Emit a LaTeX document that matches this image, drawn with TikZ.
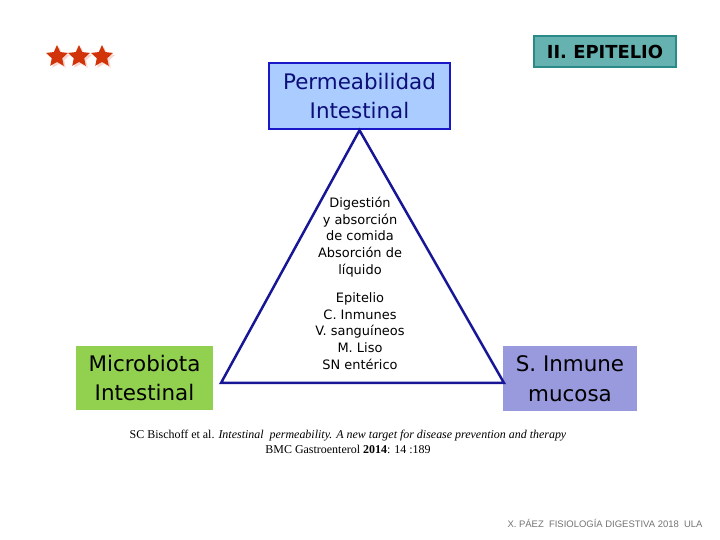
\documentclass[tikz,border=0pt]{standalone}
\usepackage{fontspec}
\setmainfont{DejaVu Sans}
\newfontfamily\citefont{Liberation Serif}
\newfontfamily\footfont{Liberation Sans}
\usepackage{tikz}
\usetikzlibrary{positioning,shapes.geometric}

\definecolor{permfill}{RGB}{170,204,255}
\definecolor{permline}{RGB}{24,24,200}
\definecolor{epifill}{RGB}{102,178,176}
\definecolor{epiline}{RGB}{42,138,136}
\definecolor{microfill}{RGB}{146,208,80}
\definecolor{inmfill}{RGB}{153,153,221}
\definecolor{triline}{RGB}{22,22,150}
\definecolor{starred}{RGB}{208,52,8}

\begin{document}
\begin{tikzpicture}[x=1bp,y=1bp, every node/.style={align=center, inner sep=0pt},
  topic/.style={minimum width=#1, font=\fontsize{21.5}{30}\selectfont},
  starglyph/.style={star, star points=5, star point ratio=2.1, minimum size=23bp, fill=starred},
  starshadow/.style={starglyph, fill=starred!20}]
\useasboundingbox (0,0) rectangle (720,540);

% stars
\foreach \sx in {57,79,102} {
  \node[starshadow] (sh\sx) at (\sx+2,481.5) {};
  \node[starglyph] (st\sx) at (\sx,483.5) {};
}

% boxes
\node[topic=181bp, minimum height=66bp, fill=permfill, draw=permline, line width=2.5pt,
  text=permline!60!black] (perm) at (359.5,444) {Permeabilidad\\Intestinal};
\node[minimum width=142bp, minimum height=31bp, fill=epifill, draw=epiline, line width=2pt,
  font=\bfseries\fontsize{18}{20}\selectfont] (epi) at (605,488.5) {II. EPITELIO};
\node[topic=137bp, minimum height=64bp, fill=microfill] (micro) at (144.5,162) {Microbiota\\Intestinal};
\node[topic=134bp, minimum height=65bp, fill=inmfill] (inm) at (570,161.5) {S. Inmune\\mucosa};

% triangle
\coordinate (apex) at (perm.south);
\coordinate (bl) at (221,157);
\coordinate (br) at (504,157);
\draw[triline, line width=2.5pt, line join=miter] (apex) -- (bl) -- (br) -- cycle;

% inside the triangle
\node[font=\fontsize{13}{16.7}\selectfont] (funcs) at (360,303) {Digestión\\y absorción\\de comida\\Absorción de\\líquido};
\node[font=\fontsize{13}{16.7}\selectfont] (parts) at (360,209) {Epitelio\\C. Inmunes\\V. sanguíneos\\M. Liso\\SN entérico};

% reference
\node[font=\citefont\fontsize{12}{15}\selectfont] (cite) at (348,98) {SC Bischoff et al. \textit{Intestinal\ \ permeability. A new target for disease prevention and therapy}\\BMC Gastroenterol \textbf{2014}: 14 :189};
\node[font=\footfont\fontsize{9.5}{10}\selectfont, text=black!55] (foot) at (605,17) {X. PÁEZ\ \ FISIOLOGÍA DIGESTIVA 2018\ \ ULA};
\end{tikzpicture}
\end{document}
